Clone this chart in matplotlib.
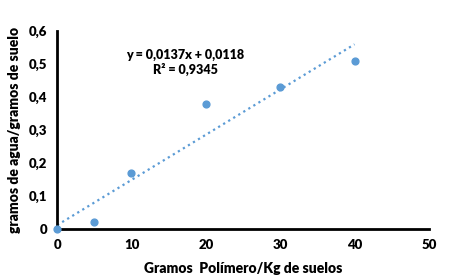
import numpy as np
import matplotlib.pyplot as plt

plt.rcParams['font.family'] = ['Lato', 'DejaVu Sans']

# Data
polimero = np.array([0, 5, 10, 20, 30, 40])
agua = np.array([0.0, 0.021, 0.17, 0.38, 0.43, 0.51])

# Trendline reported on the chart
pendiente = 0.0137
intercepto = 0.0118
r2 = 0.9345

x_ticks = [0, 10, 20, 30, 40, 50]
y_ticks = [0, 0.1, 0.2, 0.3, 0.4, 0.5, 0.6]

fig = plt.figure(figsize=(4.5, 2.8), dpi=100)
ax = fig.add_axes([0.127, 0.182, 0.826, 0.707])

x_line = np.array([polimero.min(), polimero.max()])
ax.plot(x_line, pendiente * x_line + intercepto, ':', color='#5B9BD5', lw=1.6, zorder=2)
ax.scatter(polimero, agua, color='#5B9BD5', s=24, zorder=3, clip_on=False)

ax.set_xlim(0, 50)
ax.set_ylim(0, 0.6)
ax.set_xticks(x_ticks)
ax.set_yticks(y_ticks)
ax.set_xticklabels([str(t) for t in x_ticks], fontsize=9.5, fontweight='heavy')
ax.set_yticklabels(['0' if t == 0 else f'{t:.1f}'.replace('.', ',') for t in y_ticks],
                   fontsize=9.5, fontweight='heavy')
ax.tick_params(length=0, pad=7)

for s in ['top', 'right']:
    ax.spines[s].set_visible(False)
for s in ['left', 'bottom']:
    ax.spines[s].set_linewidth(2)
    ax.spines[s].set_color('black')

ax.text(17.2, 0.505, 'y = 0,0137x + 0,0118\nR² = 0,9345', ha='center', va='center',
        fontsize=9, fontweight='heavy', linespacing=1.25)

ax.set_xlabel('Gramos  Polímero/Kg de suelos', fontsize=10, fontweight='heavy', labelpad=8)
ax.set_ylabel('gramos de agua/gramos de suelo', fontsize=10, fontweight='heavy', labelpad=6)

fig.savefig('out.png', dpi=100)
